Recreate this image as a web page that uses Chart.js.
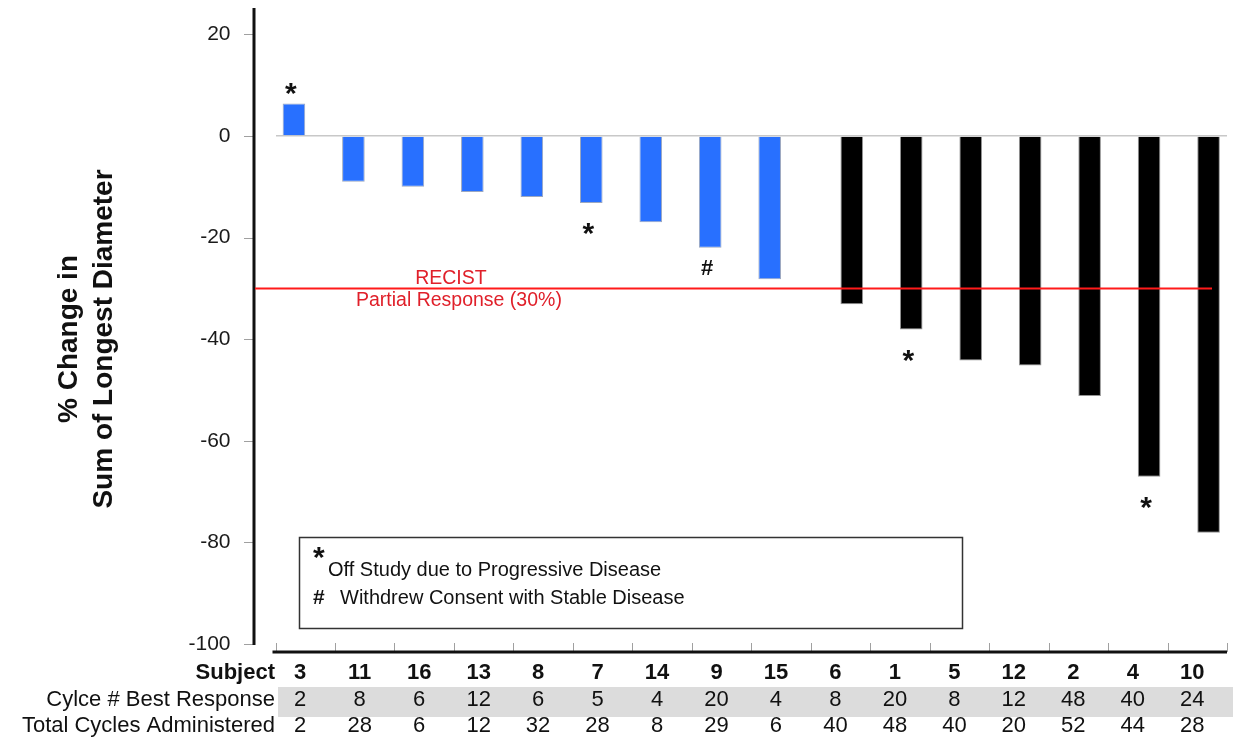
<!DOCTYPE html>
<html>
<head>
<meta charset="utf-8">
<script src="https://cdn.jsdelivr.net/npm/chart.js@4.4.1/dist/chart.umd.min.js"></script>
<style>
	html, body { margin: 0; padding: 0; background: #fff; }
	#wrap { width: 1235px; height: 741px; }
</style>
</head>
<body>
<div id="wrap"><canvas id="chart" width="1235" height="741"></canvas></div>
<script>
// data
var subjects = ['3', '11', '16', '13', '8', '7', '14', '9', '15', '6', '1', '5', '12', '2', '4', '10'];
var pctChange = [6.4, -9, -10, -11, -12, -13.2, -17, -22, -28.2, -33.1, -38.1, -44.2, -45.2, -51.2, -67.1, -78.1];
var cycleBest = [2, 8, 6, 12, 6, 5, 4, 20, 4, 8, 20, 8, 12, 48, 40, 24];
var cyclesTotal = [2, 28, 6, 12, 32, 28, 8, 29, 6, 40, 48, 40, 20, 52, 44, 28];
var notes = ['*', '', '', '', '', '*', '', '#', '', '', '*', '', '', '', '*', ''];
var yTicks = [20, 0, -20, -40, -60, -80, -100];
var recistCut = -30;

var FONT = "'Liberation Sans', Arial, sans-serif";

var stable = pctChange.map(function(v) { return v > recistCut ? v : null; });
var partial = pctChange.map(function(v) { return v <= recistCut ? v : null; });

var decor = {
	id: 'decor',
	afterDraw: function(chart) {
		var ctx = chart.ctx;
		var xs = chart.scales.x, ys = chart.scales.y, area = chart.chartArea;
		var half = (xs.getPixelForValue(1) - xs.getPixelForValue(0)) / 2;
		var axisX = area.left - 21.5;
		ctx.save();

		// y axis line + little grey ticks
		ctx.strokeStyle = '#a0a0a0';
		ctx.lineWidth = 1;
		yTicks.forEach(function(v) {
			var py = Math.round(ys.getPixelForValue(v)) + 0.5;
			ctx.beginPath();
			ctx.moveTo(axisX - 10, py);
			ctx.lineTo(axisX - 1, py);
			ctx.stroke();
		});
		ctx.strokeStyle = '#111';
		ctx.lineWidth = 3;
		ctx.beginPath();
		ctx.moveTo(axisX, area.top - 1);
		ctx.lineTo(axisX, area.bottom + 1);
		ctx.stroke();

		// x axis line below the plot, with ticks between subjects
		var baseY = area.bottom + 8;
		ctx.strokeStyle = '#a0a0a0';
		ctx.lineWidth = 1;
		for (var i = 0; i <= subjects.length; i++) {
			var bx = Math.round(xs.getPixelForValue(i) - half) + 0.5;
			ctx.beginPath();
			ctx.moveTo(bx, baseY - 9);
			ctx.lineTo(bx, baseY);
			ctx.stroke();
		}
		ctx.strokeStyle = '#111';
		ctx.lineWidth = 3;
		ctx.beginPath();
		ctx.moveTo(area.left - 3, baseY);
		ctx.lineTo(area.right, baseY);
		ctx.stroke();

		// RECIST line
		var ry = ys.getPixelForValue(recistCut);
		ctx.strokeStyle = '#ff1a1a';
		ctx.lineWidth = 2;
		ctx.beginPath();
		ctx.moveTo(axisX + 1, ry);
		ctx.lineTo(area.right - 15, ry);
		ctx.stroke();
		var lx = (xs.getPixelForValue(2) + xs.getPixelForValue(3)) / 2;
		ctx.fillStyle = '#e0202a';
		ctx.font = '19.5px ' + FONT;
		ctx.textAlign = 'center';
		ctx.textBaseline = 'alphabetic';
		ctx.fillText('RECIST', lx - 3, ry - 4);
		ctx.fillText('Partial Response (30%)', lx + 5, ry + 18);

		// marks next to bars
		ctx.fillStyle = '#111';
		notes.forEach(function(n, i) {
			if (!n) return;
			var v = pctChange[i];
			var bar = chart.getDatasetMeta(v > recistCut ? 0 : 1).data[i];
			ctx.font = (n === '*' ? 'bold 30px ' : 'bold 22px ') + FONT;
			var m = ctx.measureText(n);
			var cy;
			if (v >= 0) cy = bar.y - 14;
			else cy = bar.y + (n === '*' ? 26 : 20);
			ctx.fillText(n, bar.x - 3, cy + (m.actualBoundingBoxAscent - m.actualBoundingBoxDescent) / 2);
		});

		// footnote box
		ctx.strokeStyle = '#333';
		ctx.lineWidth = 1.5;
		ctx.strokeRect(299.5, 537.5, 663, 91);
		ctx.textAlign = 'left';
		ctx.font = 'bold 30px ' + FONT;
		var sm = ctx.measureText('*');
		ctx.fillText('*', 313, 553 + (sm.actualBoundingBoxAscent - sm.actualBoundingBoxDescent) / 2);
		ctx.font = '20px ' + FONT;
		ctx.fillText('Off Study due to Progressive Disease', 328, 576);
		ctx.fillText('Withdrew Consent with Stable Disease', 340, 604);
		ctx.font = 'bold 21px ' + FONT;
		ctx.fillText('#', 313, 604);

		// table under the axis
		ctx.fillStyle = '#dcdcdc';
		ctx.fillRect(278, 687, 1233 - 278, 30);
		var rows = [
			{ label: 'Subject', vals: subjects, bold: true, y: 679 },
			{ label: 'Cylce # Best Response', vals: cycleBest, bold: false, y: 706 },
			{ label: 'Total Cycles Administered', vals: cyclesTotal, bold: false, y: 732 }
		];
		ctx.fillStyle = '#111';
		rows.forEach(function(r) {
			ctx.font = (r.bold ? 'bold ' : '') + '22px ' + FONT;
			ctx.textAlign = 'right';
			ctx.fillText(r.label, 275, r.y);
			ctx.textAlign = 'center';
			r.vals.forEach(function(v, i) {
				ctx.fillText(String(v), xs.getPixelForValue(i) - 5, r.y);
			});
		});

		// y title
		ctx.save();
		ctx.translate(0, 339);
		ctx.rotate(-Math.PI / 2);
		ctx.font = 'bold 28px ' + FONT;
		ctx.textAlign = 'center';
		ctx.fillText('% Change in', 0, 77);
		ctx.fillText('Sum of Longest Diameter', 0, 112);
		ctx.restore();

		ctx.restore();
	}
};

function draw() {
	var ctx = document.getElementById('chart').getContext('2d');
	var chart = new Chart(ctx, {
		type: 'bar',
		data: {
			labels: subjects,
			datasets: [{
				label: 'Stable disease',
				data: stable,
				backgroundColor: '#2870ff',
				borderColor: 'rgba(90,110,150,0.6)',
				borderWidth: 1,
				categoryPercentage: 0.76,
				barPercentage: 1
			}, {
				label: 'Partial response',
				data: partial,
				backgroundColor: '#000',
				borderColor: 'rgba(120,120,120,0.8)',
				borderWidth: 1,
				categoryPercentage: 0.76,
				barPercentage: 1
			}]
		},
		options: {
			responsive: false,
			animation: false,
			devicePixelRatio: 1,
			layout: { padding: { left: 0, right: 8, top: 9, bottom: 97 } },
			plugins: {
				legend: { display: false },
				tooltip: { enabled: false }
			},
			scales: {
				x: { display: false },
				y: {
					min: -100,
					max: 25,
					afterBuildTicks: function(s) {
						s.ticks = yTicks.map(function(v) { return { value: v }; });
					},
					afterFit: function(s) {
						s.width = 275.5;
						s.paddingTop = 0;
						s.paddingBottom = 0;
					},
					border: { display: false },
					grid: {
						drawTicks: false,
						lineWidth: 1.5,
						color: function(c) { return c.tick && c.tick.value === 0 ? '#c8c8c8' : 'rgba(0,0,0,0)'; }
					},
					ticks: {
						padding: 45,
						color: '#1a1a1a',
						font: { family: FONT, size: 21 }
					}
				}
			}
		},
		plugins: [decor]
	});
}

draw();
</script>
</body>
</html>
